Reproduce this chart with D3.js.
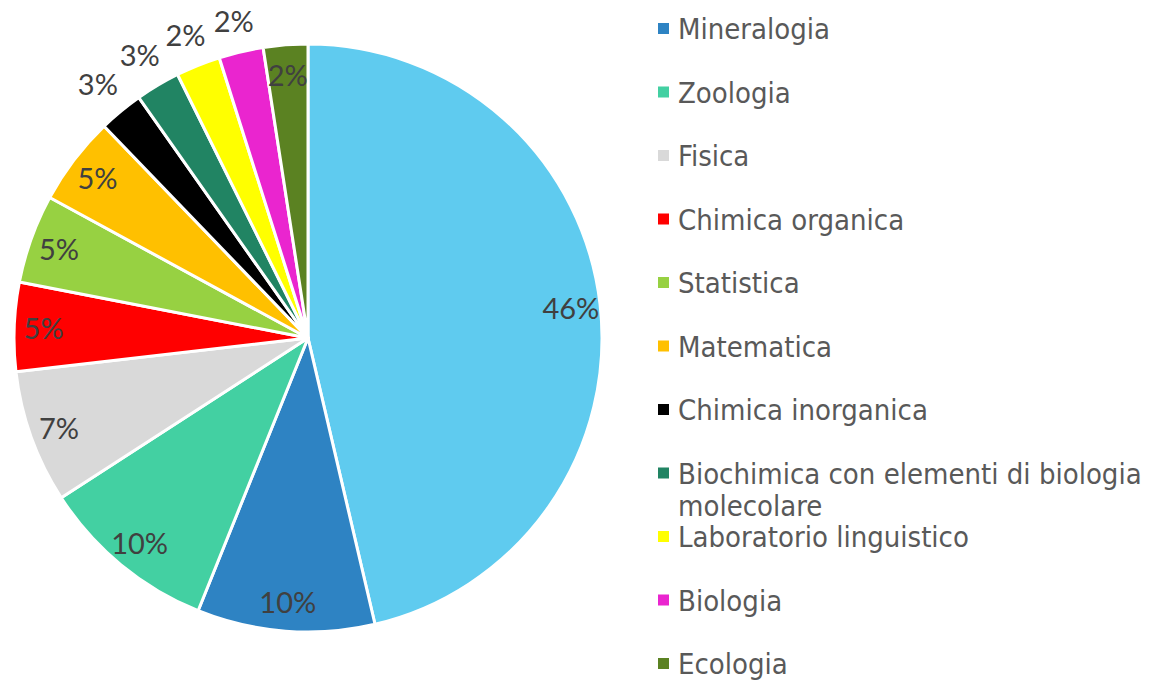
<!DOCTYPE html>
<html>
<head>
<meta charset="utf-8">
<script src="https://cdn.jsdelivr.net/npm/d3@7"></script>
<style>
    html, body { margin: 0; padding: 0; background: #fff; }
    svg { display: block; }
</style>
</head>
<body>
<div id="chart"></div>
<script>
(function(){
    // data ================================================================
    // first slice has no visible legend entry (cut off above the picture)
    var categories = ['', 'Mineralogia', 'Zoologia', 'Fisica', 'Chimica organica',
        'Statistica', 'Matematica', 'Chimica inorganica',
        'Biochimica con elementi di biologia molecolare',
        'Laboratorio linguistico', 'Biologia', 'Ecologia'];
    var values = [19, 4, 4, 3, 2, 2, 2, 1, 1, 1, 1, 1];
    var colors = ['#5fcbef', '#2e83c3', '#43d0a2', '#d9d9d9', '#ff0000', '#97d142',
        '#ffc000', '#000000', '#218463', '#ffff00', '#ea25cf', '#5b8222'];
    // where each percentage label sits
    var labelPlace = ['in', 'in', 'in', 'in', 'in', 'in', 'in', 'out', 'out', 'out', 'out', 'in'];

    var WIDTH  = 1154,
        HEIGHT = 681,
        CX = 308, CY = 338,
        RADIUS = 294,
        OUT_PAD = 10;

    var svg = d3.select('#chart').append('svg')
        .attr('width', WIDTH)
        .attr('height', HEIGHT);

    // excel style rounding: percentages always add to 100
    function roundPercents(vals){
        var total = d3.sum(vals);
        var raw = vals.map(function(v){ return v / total * 100; });
        var out = raw.map(Math.floor);
        var left = 100 - d3.sum(out);
        var order = d3.range(vals.length).sort(function(a, b){
            var ra = raw[a] - Math.floor(raw[a]), rb = raw[b] - Math.floor(raw[b]);
            return (rb - ra) || (a - b);
        });
        for (var k = 0; k < left; k++) out[order[k]] += 1;
        return out;
    }
    var percents = roundPercents(values);

    // pie =================================================================
    var pie = d3.pie().sort(null).value(function(d){ return d; });
    var arcs = pie(values);

    var arc = d3.arc().innerRadius(0).outerRadius(RADIUS);
    var inArc = d3.arc().innerRadius(RADIUS * 0.9).outerRadius(RADIUS * 0.9);

    var g = svg.append('g').attr('transform', 'translate(' + CX + ',' + CY + ')');

    g.selectAll('path')
        .data(arcs)
        .enter().append('path')
        .attr('d', arc)
        .attr('fill', function(d, i){ return colors[i]; })
        .attr('stroke', '#fff')
        .attr('stroke-width', 3)
        .attr('stroke-linejoin', 'round');

    g.selectAll('text.pct')
        .data(arcs)
        .enter().append('text')
        .attr('class', 'pct')
        .attr('text-anchor', 'middle')
        .attr('dominant-baseline', 'central')
        .style('font-family', 'Lato, "Open Sans", sans-serif')
        .style('font-size', '29px')
        .style('fill', '#404040')
        .text(function(d, i){ return percents[i] + '%'; })
        .attr('transform', function(d, i){
            if (labelPlace[i] !== 'out') return 'translate(' + inArc.centroid(d) + ')';
            // outside: push the label box just clear of the rim
            var bb = this.getBBox();
            var a = (d.startAngle + d.endAngle) / 2;
            var s = Math.sin(a), c = Math.cos(a);
            var r = RADIUS + OUT_PAD + Math.abs(s) * bb.width / 2 + Math.abs(c) * bb.height / 2;
            return 'translate(' + (s * r) + ',' + (-c * r) + ')';
        });

    // legend ==============================================================
    var legendItems = d3.range(1, categories.length);
    var y = d3.scalePoint().domain(legendItems).range([39, 674]);
    var LEG_X = 658, TEXT_X = 678, MAX_W = WIDTH - TEXT_X - 2;

    var leg = svg.append('g').attr('class', 'legend');
    var items = leg.selectAll('g')
        .data(legendItems)
        .enter().append('g')
        .attr('transform', function(i){ return 'translate(0,' + y(i) + ')'; });

    items.append('rect')
        .attr('x', LEG_X)
        .attr('y', -16)
        .attr('width', 11)
        .attr('height', 11)
        .attr('fill', function(i){ return colors[i]; });

    items.append('text')
        .attr('x', TEXT_X)
        .attr('y', 0)
        .style('font-family', '"DejaVu Sans Condensed", "DejaVu Sans", sans-serif')
        .style('font-size', '29px')
        .style('fill', '#595959')
        .each(function(i){ wrap(d3.select(this), categories[i], MAX_W); });

    function wrap(text, str, maxW){
        var words = str.split(' '), line = [];
        var tspan = text.append('tspan').attr('x', TEXT_X).attr('dy', 0);
        words.forEach(function(w){
            line.push(w);
            tspan.text(line.join(' '));
            if (tspan.node().getComputedTextLength() > maxW && line.length > 1) {
                line.pop();
                tspan.text(line.join(' '));
                line = [w];
                tspan = text.append('tspan').attr('x', TEXT_X).attr('dy', 32).text(w);
            }
        });
    }
})();
</script>
</body>
</html>
